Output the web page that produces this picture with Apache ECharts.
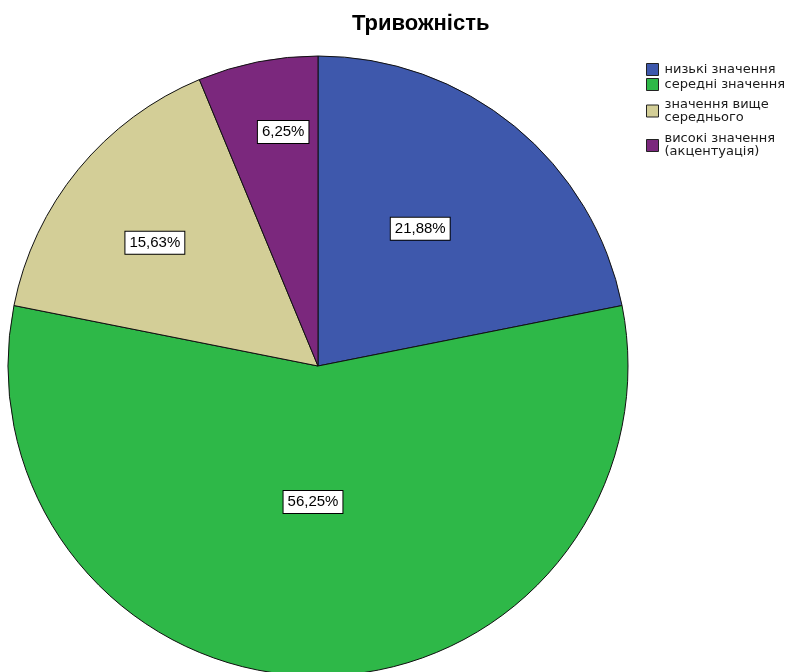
<!DOCTYPE html>
<html>
<head>
<meta charset="utf-8">
<script src="https://cdn.jsdelivr.net/npm/echarts@6/dist/echarts.min.js"></script>
<style>
  html, body { margin: 0; padding: 0; background: #fff; }
  #chart { width: 793px; height: 672px; }
</style>
</head>
<body>
<div id="chart"></div>
<script>
// Розподіл рівнів тривожності (кількість осіб у кожній групі)
const categories = [
  'низькі значення',
  'середні значення',
  'значення вище\nсереднього',
  'високі значення\n(акцентуація)'
];
const counts = [7, 18, 5, 2];
const colors = ['#3e58ac', '#2eb848', '#d3ce97', '#7b287d'];

// Зсув підписів відносно центру сектора
const labelShift = [[2, -15], [-5, -22], [-41, -23], [-4, -79]];
// Додатковий верхній відступ пунктів легенди
const legendTopPad = [0, 0, 10, 3];

const total = counts.reduce((a, b) => a + b, 0);
const pieData = categories.map((name, i) => ({
  name: name,
  value: counts[i],
  itemStyle: { color: colors[i] }
}));

const chart = echarts.init(document.getElementById('chart'), null, { renderer: 'canvas' });
chart.setOption({
  animation: false,
  backgroundColor: '#ffffff',
  title: {
    text: 'Тривожність',
    left: 347,
    top: 8,
    textStyle: {
      fontFamily: 'Liberation Sans, Arial, sans-serif',
      fontWeight: 'bold',
      fontSize: 22,
      color: '#000'
    }
  },
  legend: {
    orient: 'vertical',
    left: 646,
    top: 63,
    padding: 0,
    itemWidth: 12,
    itemHeight: 12,
    itemGap: 2,
    icon: 'rect',
    selectedMode: false,
    itemStyle: { borderColor: '#222', borderWidth: 1 },
    textStyle: {
      fontFamily: 'DejaVu Sans, sans-serif',
      fontSize: 13,
      lineHeight: 13,
      color: '#1a1a1a',
      padding: [0, 0, 0, 1]
    },
    data: categories.map((name, i) => ({
      name: name,
      textStyle: { padding: [legendTopPad[i], 0, 0, 1] }
    }))
  },
  series: [{
    type: 'pie',
    center: [318, 366],
    radius: [0, 310],
    startAngle: 90,
    clockwise: true,
    avoidLabelOverlap: false,
    itemStyle: { borderColor: '#111', borderWidth: 1 },
    label: {
      show: true,
      position: 'inside',
      formatter: p => (p.value / total * 100).toFixed(2).replace('.', ',') + '%',
      fontFamily: 'Liberation Sans, Arial, sans-serif',
      fontSize: 15,
      color: '#000',
      backgroundColor: '#fff',
      borderColor: '#000',
      borderWidth: 1,
      padding: [4, 4, 3, 4]
    },
    labelLine: { show: false },
    labelLayout: p => ({ dx: labelShift[p.dataIndex][0], dy: labelShift[p.dataIndex][1] }),
    emphasis: { disabled: true },
    data: pieData
  }]
});
</script>
</body>
</html>
